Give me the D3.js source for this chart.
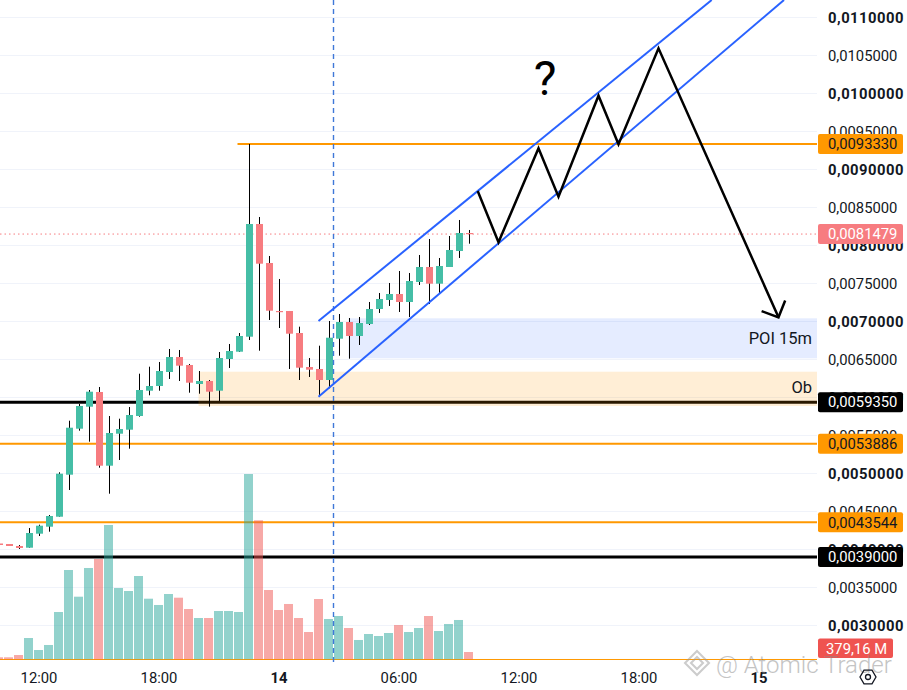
<!DOCTYPE html>
<html>
<head>
<meta charset="utf-8">
<script src="https://cdn.jsdelivr.net/npm/d3@7"></script>
<style>
html, body { margin: 0; padding: 0; background: #fff; overflow: hidden; }
svg { display: block; font-family: Roboto, "Noto Sans", sans-serif; }
</style>
</head>
<body>
<div id="chart-area"></div>
<script>
// 30 min bars, time = hours since 13th 00:00
var times = [10, 10.5, 11, 11.5, 12, 12.5, 13, 13.5, 14, 14.5, 15, 15.5, 16, 16.5, 17, 17.5,
    18, 18.5, 19, 19.5, 20, 20.5, 21, 21.5, 22, 22.5, 23, 23.5, 24, 24.5, 25, 25.5,
    26, 26.5, 27, 27.5, 28, 28.5, 29, 29.5, 30, 30.5, 31, 31.5, 32, 32.5, 33, 33.5];

var opens = [0.0040763, 0.0040697, 0.0040434, 0.0040211, 0.0042053, 0.0042974, 0.0044289, 0.0049816,
    0.0055868, 0.0058763, 0.0060697, 0.0051000, 0.0055210, 0.0055737, 0.0057539, 0.0060868,
    0.0061487, 0.0063329, 0.0065303, 0.0064250, 0.0061750, 0.0062145, 0.0060868, 0.0065039,
    0.0066000, 0.0067974, 0.0082803, 0.0077671, 0.0071355, 0.0071355, 0.0068460, 0.0063987,
    0.0063724, 0.0062276, 0.0067711, 0.0069908, 0.0068066, 0.0069645, 0.0071618, 0.0072803,
    0.0073592, 0.0072540, 0.0075171, 0.0077145, 0.0074947, 0.0077145, 0.0079250, 0.0081618];

var highs = [0.0040763, 0.0040697, 0.0040566, 0.0042803, 0.0043237, 0.0044513, 0.0050132, 0.0056921,
    0.0059118, 0.0060960, 0.0061355, 0.0057539, 0.0057184, 0.0058724, 0.0063105, 0.0064026,
    0.0064645, 0.0066355, 0.0066224, 0.0064382, 0.0063460, 0.0062276, 0.0065960, 0.0067013,
    0.0068460, 0.0093330, 0.0083724, 0.0078592, 0.0075566, 0.0071355, 0.0069289, 0.0065171,
    0.0066789, 0.0070040, 0.0070960, 0.0070434, 0.0070566, 0.0072540, 0.0073724, 0.0075040,
    0.0076618, 0.0076355, 0.0078724, 0.0080829, 0.0078329, 0.0081224, 0.0083329, 0.0082013];

var lows = [0.0040566, 0.0040434, 0.0040039, 0.0040211, 0.0041750, 0.0042316, 0.0044289, 0.0047803,
    0.0055605, 0.0054158, 0.0050737, 0.0047316, 0.0051750, 0.0053237, 0.0057447, 0.0060263,
    0.0060868, 0.0062408, 0.0062145, 0.0060605, 0.0060474, 0.0058763, 0.0059513, 0.0063855,
    0.0065960, 0.0067539, 0.0066132, 0.0070171, 0.0069118, 0.0063724, 0.0062276, 0.0062671,
    0.0060079, 0.0061184, 0.0065474, 0.0065079, 0.0066882, 0.0069513, 0.0071092, 0.0072013,
    0.0071224, 0.0070566, 0.0074776, 0.0072276, 0.0073592, 0.0077145, 0.0078329, 0.0080211];

var closes = [0.0040566, 0.0040434, 0.0040171, 0.0042145, 0.0043105, 0.0044382, 0.0049947, 0.0056000,
    0.0058855, 0.0060737, 0.0051000, 0.0055303, 0.0055829, 0.0057671, 0.0060960, 0.0061487,
    0.0063460, 0.0065303, 0.0064158, 0.0061921, 0.0062145, 0.0060737, 0.0065171, 0.0066092,
    0.0068066, 0.0082803, 0.0077579, 0.0071395, 0.0071224, 0.0068368, 0.0063895, 0.0063632,
    0.0062276, 0.0067842, 0.0069908, 0.0068066, 0.0069776, 0.0071618, 0.0072934, 0.0073592,
    0.0072540, 0.0075303, 0.0077145, 0.0074947, 0.0077276, 0.0079382, 0.0081618, 0.0081479];

// volume in millions
var volumes = [104, 104, 223, 1106, 483, 743, 2457, 4639, 3252, 4743, 5210, 6977, 3704, 3548, 4327, 3148,
    2821, 3392, 3200, 2613, 2145, 2145, 2509, 2509, 2457, 9626, 7221, 3600, 2561, 2873, 2145, 1418,
    3132, 2094, 2249, 1626, 1003, 1314, 1210, 1366, 1782, 1418, 1626, 2249, 1470, 1834, 2042, 379.16];

var priceTicks = [0.003, 0.0035, 0.004, 0.0045, 0.005, 0.0055, 0.006, 0.0065, 0.007, 0.0075,
    0.008, 0.0085, 0.009, 0.0095, 0.010, 0.0105, 0.011];
var timeTicks = [12, 18, 24, 30, 36, 42, 48];
var timeLabels = ['12:00', '18:00', '14', '06:00', '12:00', '18:00', '15'];
var boldTimes = ['14', '15'];

// horizontal levels
var levelPrices = [0.009333, 0.005935, 0.0053886, 0.0043544, 0.0039, 0.00255];
var levelStart = [21.95, 10, 10, 10, 10, 10];
var levelKinds = ['orange', 'black', 'orange', 'orange', 'black', 'thin'];
var levelLabeled = [true, true, true, true, true, false];
var lastPrice = 0.0081479;
var lastVolumeText = '379,16 M';

// zones [t start, price top, price bottom]
var poiZone = [27.5, 0.0070395, 0.0065132];
var obZone = [20, 0.0063368, 0.0058855];

// channel anchors
var upperChannel = [[26, 0.007004], [45.66, 0.0112276]];
var lowerChannel = [[26, 0.0060079], [49.275, 0.0112276]];
var sessionLine = 26.75;

// projected path
var pathTimes = [33.96, 35, 37, 38, 40, 41, 43, 49];
var pathPrices = [0.0087145, 0.0080395, 0.0092763, 0.0086395, 0.0099684, 0.009329, 0.0105921, 0.0070526];

var def = {
    width: 907,
    height: 690,
    plotW: 817,
    plotH: 665,
    volBase: 659.3,
    up: '#45bea6',
    down: '#f77c80',
    volUp: 'rgba(38,166,154,0.5)',
    volDown: 'rgba(239,83,80,0.5)',
    grid: '#f0f3fa',
    text: '#131722',
    font: 14.8
};

var levelStyle = {
    orange: { stroke: '#ff9800', width: 2, box: '#ff9800', label: '#131722' },
    black: { stroke: '#000000', width: 3, box: '#000000', label: '#ffffff' },
    thin: { stroke: '#ff9800', width: 1, box: null, label: null }
};

var comma = d3.formatLocale({ decimal: ',', thousands: ' ', grouping: [3], currency: ['', ''] });
var fmtPrice = comma.format('.7f');

var svg = d3.select('#chart-area').append('svg')
    .attr('width', def.width)
    .attr('height', def.height);

svg.append('defs').append('clipPath').attr('id', 'plot-clip')
    .append('rect').attr('x', 0).attr('y', 0).attr('width', def.plotW).attr('height', def.plotH);

var x = d3.scaleLinear().domain([10.075, 50.925]).range([0, def.plotW]);
var y = d3.scaleLinear().domain([0.0024776, 0.0112276]).range([def.plotH, 0]);
var yVol = d3.scaleLinear().domain([0, 10000]).range([def.volBase, def.volBase - 192.5]);

var candles = times.map(function (t, i) {
    return { t: t, o: opens[i], h: highs[i], l: lows[i], c: closes[i], v: volumes[i], up: closes[i] >= opens[i] };
});

var plot = svg.append('g').attr('clip-path', 'url(#plot-clip)');

// grid
plot.append('g').selectAll('line')
    .data(priceTicks)
    .enter().append('line')
    .attr('x1', 0).attr('x2', def.plotW)
    .attr('y1', d => Math.round(y(d)) + 0.5)
    .attr('y2', d => Math.round(y(d)) + 0.5)
    .attr('stroke', def.grid)
    .attr('stroke-width', 1);

// levels
levelPrices.forEach(function (p, i) {
    var st = levelStyle[levelKinds[i]];
    plot.append('line')
        .attr('x1', x(levelStart[i])).attr('x2', def.plotW)
        .attr('y1', y(p)).attr('y2', y(p))
        .attr('stroke', st.stroke)
        .attr('stroke-width', st.width);
});

// last price dotted
plot.append('line')
    .attr('x1', 0).attr('x2', def.plotW)
    .attr('y1', y(lastPrice)).attr('y2', y(lastPrice))
    .attr('stroke', def.down)
    .attr('stroke-width', 1)
    .attr('stroke-dasharray', '1.5,3');

// volume
plot.append('g').selectAll('rect')
    .data(candles)
    .enter().append('rect')
    .attr('x', d => x(d.t) - 4.5)
    .attr('width', 9)
    .attr('y', d => yVol(d.v))
    .attr('height', d => def.volBase - yVol(d.v))
    .attr('fill', d => d.up ? def.volUp : def.volDown);

// zones
plot.append('rect')
    .attr('x', x(poiZone[0]))
    .attr('y', y(poiZone[1]))
    .attr('width', def.plotW - x(poiZone[0]))
    .attr('height', y(poiZone[2]) - y(poiZone[1]))
    .attr('fill', 'rgba(41,98,255,0.12)');
plot.append('rect')
    .attr('x', x(obZone[0]))
    .attr('y', y(obZone[1]))
    .attr('width', def.plotW - x(obZone[0]))
    .attr('height', y(obZone[2]) - y(obZone[1]))
    .attr('fill', 'rgba(255,152,0,0.16)');

plot.append('text')
    .attr('x', def.plotW - 5)
    .attr('y', (y(poiZone[1]) + y(poiZone[2])) / 2 + 6)
    .attr('text-anchor', 'end')
    .attr('font-size', 16.5)
    .attr('fill', def.text)
    .text('POI 15m');
plot.append('text')
    .attr('x', def.plotW - 5)
    .attr('y', (y(obZone[1]) + y(obZone[2])) / 2 + 4)
    .attr('text-anchor', 'end')
    .attr('font-size', 16.5)
    .attr('fill', def.text)
    .text('Ob');

// candles
var cg = plot.append('g');
cg.selectAll('line')
    .data(candles)
    .enter().append('line')
    .attr('x1', d => Math.round(x(d.t)) + 0.5)
    .attr('x2', d => Math.round(x(d.t)) + 0.5)
    .attr('y1', d => y(d.h))
    .attr('y2', d => y(d.l))
    .attr('stroke', '#000')
    .attr('stroke-width', 1);
cg.selectAll('rect')
    .data(candles)
    .enter().append('rect')
    .attr('x', d => Math.round(x(d.t)) - 3)
    .attr('width', 7)
    .attr('y', d => y(Math.max(d.o, d.c)))
    .attr('height', d => Math.max(1.2, Math.abs(y(d.o) - y(d.c))))
    .attr('fill', d => d.up ? def.up : def.down);

// session break
plot.append('line')
    .attr('x1', x(sessionLine)).attr('x2', x(sessionLine))
    .attr('y1', 0).attr('y2', def.plotH)
    .attr('stroke', '#3f78d8')
    .attr('stroke-width', 1.4)
    .attr('stroke-dasharray', '5,4');

// channel
[upperChannel, lowerChannel].forEach(function (c) {
    plot.append('line')
        .attr('x1', x(c[0][0])).attr('y1', y(c[0][1]))
        .attr('x2', x(c[1][0])).attr('y2', y(c[1][1]))
        .attr('stroke', '#2962ff')
        .attr('stroke-width', 2);
});

// projected path + arrow
var pts = pathTimes.map((t, i) => [x(t), y(pathPrices[i])]);
plot.append('path')
    .attr('d', d3.line()(pts))
    .attr('fill', 'none')
    .attr('stroke', '#000')
    .attr('stroke-width', 2.5)
    .attr('stroke-linejoin', 'miter');
var end = pts[pts.length - 1], prev = pts[pts.length - 2];
var ang = Math.atan2(prev[1] - end[1], prev[0] - end[0]);
var head = [ang + 0.8, ang - 0.8].map(a => [end[0] + 18 * Math.cos(a), end[1] + 18 * Math.sin(a)]);
plot.append('path')
    .attr('d', d3.line()([head[0], end, head[1]]))
    .attr('fill', 'none')
    .attr('stroke', '#000')
    .attr('stroke-width', 2.5);

plot.append('text')
    .attr('x', 545)
    .attr('y', 95)
    .attr('text-anchor', 'middle')
    .attr('font-size', 48)
    .attr('fill', '#000')
    .text('?');

// price axis
var yAx = d3.axisRight(y)
    .tickValues(priceTicks)
    .tickSize(0)
    .tickPadding(0)
    .tickFormat(fmtPrice);
var yUnit = svg.append('g')
    .attr('transform', 'translate(828,0)')
    .call(yAx);
yUnit.select('.domain').remove();
yUnit.selectAll('text')
    .attr('font-family', 'Roboto, sans-serif')
    .attr('font-size', def.font)
    .attr('fill', def.text)
    .attr('font-weight', d => Math.abs(d * 1000 - Math.round(d * 1000)) < 1e-6 ? 'bold' : 'normal')
    .attr('letter-spacing', d => Math.abs(d * 1000 - Math.round(d * 1000)) < 1e-6 ? 0.5 : 0);

// price labels
function priceBox(p, fill, color, txt, w) {
    var g = svg.append('g').attr('transform', 'translate(818,' + y(p) + ')');
    g.append('rect')
        .attr('x', 0).attr('y', -10)
        .attr('width', w || 85).attr('height', 20)
        .attr('rx', 2)
        .attr('fill', fill);
    g.append('text')
        .attr('x', 10).attr('dy', '0.35em')
        .attr('font-size', def.font)
        .attr('fill', color)
        .text(txt);
}
levelPrices.forEach(function (p, i) {
    if (!levelLabeled[i]) return;
    var st = levelStyle[levelKinds[i]];
    priceBox(p, st.box, st.label, fmtPrice(p));
});
priceBox(lastPrice, def.down, '#fff', fmtPrice(lastPrice));

// volume label
var vg = svg.append('g').attr('transform', 'translate(818,' + Math.min(yVol(volumes[volumes.length - 1]), 648.6) + ')');
vg.append('rect').attr('x', 0).attr('y', -10).attr('width', 75).attr('height', 19.5).attr('rx', 2).attr('fill', '#ef5350');
vg.append('text').attr('x', 8).attr('dy', '0.35em').attr('font-size', def.font).attr('fill', '#fff').text(lastVolumeText);

// time axis
var xAx = d3.axisBottom(x)
    .tickValues(timeTicks)
    .tickSize(0)
    .tickPadding(3)
    .tickFormat((d, i) => timeLabels[i]);
var xUnit = svg.append('g')
    .attr('transform', 'translate(0,' + 669 + ')')
    .call(xAx);
xUnit.select('.domain').remove();
xUnit.selectAll('text')
    .attr('font-family', 'Roboto, sans-serif')
    .attr('font-size', def.font)
    .attr('fill', def.text)
    .attr('font-weight', (d, i) => boldTimes.indexOf(timeLabels[i]) >= 0 ? 'bold' : 'normal');

// watermark
var wm = svg.append('g').attr('opacity', 0.5);
wm.append('path')
    .attr('d', 'M697,651 L709,663 L697,675 L685,663 Z M697,657 L703,663 L697,669 L691,663 Z')
    .attr('fill', 'none')
    .attr('stroke', '#9a9a9a')
    .attr('stroke-width', 2);
wm.append('text')
    .attr('x', 716).attr('y', 673)
    .attr('font-size', 24)
    .attr('font-weight', 300)
    .attr('fill', '#8a8a8a')
    .text('@ Atomic Trader');

// settings icon
var hex = d3.range(6).map(i => [868 + 8 * Math.cos(Math.PI / 3 * i), 677 + 8 * Math.sin(Math.PI / 3 * i)]);
svg.append('path')
    .attr('d', d3.line()(hex) + 'Z')
    .attr('fill', 'none')
    .attr('stroke', def.text)
    .attr('stroke-width', 1.3);
svg.append('circle')
    .attr('cx', 868).attr('cy', 677).attr('r', 2.5)
    .attr('fill', 'none')
    .attr('stroke', def.text)
    .attr('stroke-width', 1.3);
</script>
</body>
</html>
